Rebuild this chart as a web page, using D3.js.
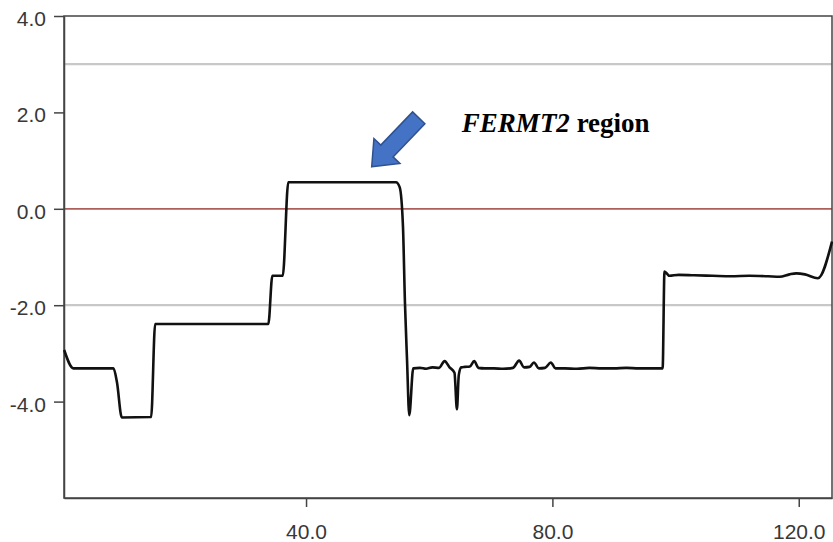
<!DOCTYPE html>
<html>
<head>
<meta charset="utf-8">
<script src="https://cdn.jsdelivr.net/npm/d3@7"></script>
<style>
  body { margin: 0; background: #fff; }
  svg { display: block; }
  .axis text { font-family: "Liberation Sans", Arial, sans-serif; font-size: 21px; fill: #383838; }
  .axis path, .axis line { stroke: #444; stroke-width: 1.5px; }
</style>
</head>
<body>
<div id="chart"></div>
<script>
// position along the region (x) and score (y)
const xs = [0.73, 2.24, 8.73, 9.3, 10.09, 14.85, 15.5, 33.88, 34.53, 36.22, 37.12, 54.6,
  55.2, 55.74, 56.06, 56.4, 56.76, 57.41, 58.5, 59.5, 60.5, 61.6, 62.5, 63.3, 64.1, 64.5, 64.8,
  65.2, 65.8, 66.6, 67.3, 68.0, 69.0, 70.5, 72.0, 73.6, 74.6, 75.4, 76.3, 77.0, 77.8, 78.8,
  79.75, 80.5, 82, 84, 86, 88, 90, 92, 94, 96, 97.9, 98.2, 99, 100.5, 103, 106, 109, 112,
  115, 116.9, 118.5, 119.6, 121, 123.1, 125.4];
const ys = [-2.93, -3.31, -3.31, -3.6, -4.33, -4.32, -2.39, -2.39, -1.39, -1.39, 0.55, 0.55,
  0.45, -0.37, -1.95, -3.14, -4.28, -3.31, -3.30, -3.32, -3.29, -3.30, -3.16, -3.29, -3.40, -4.16, -3.45,
  -3.29, -3.28, -3.27, -3.16, -3.30, -3.31, -3.31, -3.32, -3.30, -3.15, -3.29, -3.28, -3.19, -3.31, -3.30,
  -3.19, -3.31, -3.31, -3.32, -3.30, -3.31, -3.31, -3.30, -3.31, -3.31, -3.31, -1.30, -1.39, -1.37,
  -1.38, -1.39, -1.40, -1.39, -1.40, -1.41, -1.36, -1.34, -1.36, -1.44, -0.68];

const xTicks = [40, 80, 120];
const yTicks = [-4, -2, 0, 2, 4];
const greyLines = [3, -2];
const redLines = [0];

// annotation: arrow tip and label anchor in data units
const arrowTip = [50.66, 0.87];
const labelAt = [65.3, 1.6];
const labelItalic = "FERMT2";
const labelRest = " region";

const width = 833, height = 542;
const margin = {top: 16, right: 1, bottom: 44, left: 64};

const svg = d3.select("#chart").append("svg")
    .attr("width", width)
    .attr("height", height);

const x = d3.scaleLinear().domain([0.7, 125.4]).range([margin.left, width - margin.right]);
const y = d3.scaleLinear().domain([-6, 4]).range([height - margin.bottom, margin.top]);

// reference lines
svg.append("g").selectAll("line").data(greyLines).join("line")
    .attr("x1", margin.left).attr("x2", width - margin.right)
    .attr("y1", d => y(d)).attr("y2", d => y(d))
    .attr("stroke", "#c8c8c8").attr("stroke-width", 2.2);

svg.append("g").selectAll("line").data(redLines).join("line")
    .attr("x1", margin.left).attr("x2", width - margin.right)
    .attr("y1", d => y(d)).attr("y2", d => y(d))
    .attr("stroke", "#ad5f5c").attr("stroke-width", 1.8);

// frame
svg.append("rect")
    .attr("x", margin.left).attr("y", margin.top)
    .attr("width", width - margin.right - margin.left)
    .attr("height", height - margin.bottom - margin.top)
    .attr("fill", "none").attr("stroke", "#444").attr("stroke-width", 1.5);

svg.append("g")
    .attr("class", "axis")
    .attr("transform", `translate(${margin.left},0)`)
    .call(d3.axisLeft(y).tickValues(yTicks).tickFormat(d => d.toFixed(1)).tickSize(10).tickSizeOuter(0).tickPadding(8))
    .selectAll("text").attr("dy", "0.45em");

svg.append("g")
    .attr("class", "axis")
    .attr("transform", `translate(0,${height - margin.bottom})`)
    .call(d3.axisBottom(x).tickValues(xTicks).tickFormat(d => d.toFixed(1)).tickSize(9).tickSizeOuter(0).tickPadding(17));

// the score line
const pts = xs.map((d, i) => [d, ys[i]]);
svg.append("path")
    .datum(pts)
    .attr("fill", "none")
    .attr("stroke", "#111")
    .attr("stroke-width", 2.6)
    .attr("stroke-linejoin", "round")
    .attr("d", d3.line().x(d => x(d[0])).y(d => y(d[1])).curve(d3.curveMonotoneX));

// block arrow pointing down-left at the region
const len = 68, shaftW = 8.5, headW = 18, headL = 22;
const arrowShape = [[0, 0], [-headL, -headW], [-headL, -shaftW], [-len, -shaftW],
  [-len, shaftW], [-headL, shaftW], [-headL, headW]];
svg.append("polygon")
    .attr("points", arrowShape.map(p => p.join(",")).join(" "))
    .attr("transform", `translate(${x(arrowTip[0])},${y(arrowTip[1])}) rotate(133.8)`)
    .attr("fill", "#4472c4")
    .attr("stroke", "#2f528f")
    .attr("stroke-width", 1.5)
    .attr("stroke-linejoin", "miter");

const label = svg.append("text")
    .attr("x", x(labelAt[0]))
    .attr("y", y(labelAt[1]))
    .attr("font-family", "'Liberation Serif', 'Times New Roman', serif")
    .attr("font-size", 27)
    .attr("font-weight", "bold")
    .attr("fill", "#000");
label.append("tspan").attr("font-style", "italic").text(labelItalic);
label.append("tspan").text(labelRest);
</script>
</body>
</html>
